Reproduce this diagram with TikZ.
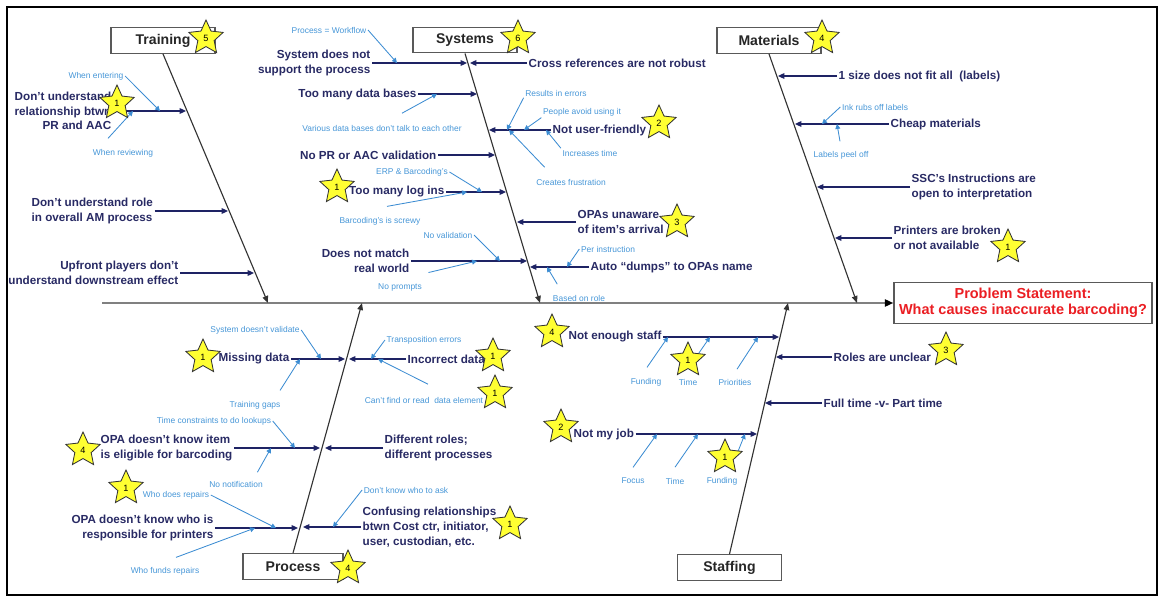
\documentclass[tikz,border=0pt]{standalone}
\usepackage{fontspec}
\setmainfont{Liberation Sans}
\usetikzlibrary{shapes.geometric,arrows.meta}
\definecolor{causetxt}{RGB}{40,42,100}
\definecolor{causeline}{RGB}{30,35,100}
\definecolor{subtxt}{RGB}{70,150,215}
\definecolor{subline}{RGB}{60,140,210}
\definecolor{staryellow}{RGB}{255,255,50}
\definecolor{probred}{RGB}{235,30,35}

\begin{document}
\begin{tikzpicture}
  [x=0.025cm,y=-0.025cm,
   catbox/.style={draw=black!65,line width=0.9pt,fill=white,minimum width=2.6cm,minimum height=0.64cm,font=\fontsize{10}{12}\selectfont\bfseries,text=black!85},
   cause/.style={font=\fontsize{8.3}{10.5}\selectfont\bfseries,text=causetxt,inner sep=1pt},
   sub/.style={font=\fontsize{6}{7}\selectfont,text=subtxt,inner sep=1pt},
   bone/.style={draw=black!80,line width=0.8pt,-{Triangle[length=5pt,width=4pt]}},
   spine/.style={draw=black!50,line width=1.6pt,-{Triangle[length=6pt,width=5pt,color=black]}},
   arr/.style={draw=causeline,line width=0.9pt,-{Triangle[length=4.5pt,width=4pt]}},
   subarr/.style={draw=subline,line width=0.6pt,-{Triangle[length=3.5pt,width=3.5pt]}},
   rating/.style={star,star points=5,star point ratio=2.1,minimum size=0.9cm,inner sep=0pt,fill=staryellow,draw=black!80,line width=0.6pt,font=\fontsize{6.5}{7}\selectfont}]
  \useasboundingbox (0,0) rectangle (1160,597);
  \draw[line width=1.4pt] (7,7) rectangle (1157,595);

  \node[catbox] (tra) at (163,40.5) {Training};
  \node[catbox] (sys) at (465,40) {Systems};
  \node[catbox] (mat) at (769,40.5) {Materials};
  \node[catbox,minimum width=2.5cm] (pro) at (293,566.5) {Process};
  \node[catbox] (sta) at (729.5,567.5) {Staffing};
  \node[draw=black!65,line width=0.9pt,fill=white,minimum width=6.45cm,minimum height=1.025cm,align=center,font=\fontsize{10.3}{11.5}\selectfont\bfseries,text=probred] (prob) at (1023,303) {Problem Statement:\\What causes inaccurate barcoding?};

  \coordinate (spl) at (102,303);
  \coordinate (trab) at (268,303);
  \coordinate (sysb) at (540,303);
  \coordinate (matb) at (857,303);
  \coordinate (prot) at (362,303);
  \coordinate (stat) at (788,303);

  \node[cause,align=right,anchor=east] (tr1) at (113,111) {Don't understand\\relationship btwn\\PR and AAC};
  \node[cause,align=left,anchor=west] (tr2) at (30,211) {Don't understand role\\in overall AM process};
  \node[cause,align=right,anchor=east] (tr3) at (180,273) {Upfront players don't\\understand downstream effect};
  \node[sub] (went) at (96,76) {When entering};
  \node[sub] (wrev) at (123,153) {When reviewing};
  \coordinate (tr1b) at (186,111);
  \coordinate (tr2b) at (228,211);
  \coordinate (tr3b) at (254,273);
  \coordinate (wents) at (160,111);
  \coordinate (wrevs) at (133,111);

  \node[cause,align=right,anchor=east] (sy1) at (372,63) {System does not\\support the process};
  \node[cause,anchor=west] (sy2) at (527,63) {Cross references are not robust};
  \node[cause,anchor=east] (sy3) at (418,94) {Too many data bases};
  \node[cause,anchor=west] (sy4) at (551,130) {Not user-friendly};
  \node[cause,anchor=east] (sy5) at (438,155) {No PR or AAC validation};
  \node[cause,anchor=east] (sy6) at (446,192) {Too many log ins};
  \node[cause,align=left,anchor=west] (sy7) at (576,222) {OPAs unaware\\of item's arrival};
  \node[cause,align=right,anchor=east] (sy8) at (411,261) {Does not match\\real world};
  \node[cause,anchor=west] (sy9) at (589,267) {Auto ``dumps'' to OPAs name};
  \node[sub] (pwf) at (329,30) {Process = Workflow};
  \node[sub] (vdb) at (382,128) {Various data bases don't talk to each other};
  \node[sub] (rie) at (556,93) {Results in errors};
  \node[sub] (pau) at (582,112) {People avoid using it};
  \node[sub] (inc) at (590,153) {Increases time};
  \node[sub] (cfr) at (571,182) {Creates frustration};
  \node[sub] (erp) at (412,172) {ERP \& Barcoding's};
  \node[sub] (bcs) at (380,221) {Barcoding's is screwy};
  \node[sub] (nov) at (448,235) {No validation};
  \node[sub] (nop) at (400,287) {No prompts};
  \node[sub] (pin) at (608,249) {Per instruction};
  \node[sub] (bor) at (579,298) {Based on role};
  \coordinate (sy1b) at (467,63);
  \coordinate (sy2b) at (470,63);
  \coordinate (sy3b) at (477,94);
  \coordinate (sy4b) at (489,130);
  \coordinate (sy5b) at (495,155);
  \coordinate (sy6b) at (506,192);
  \coordinate (sy7b) at (517,222);
  \coordinate (sy8b) at (527,261);
  \coordinate (sy9b) at (530,267);
  \coordinate (pwfs) at (397,63);
  \coordinate (vdbs) at (437,94);
  \coordinate (ries) at (507,130);
  \coordinate (paus) at (524,130);
  \coordinate (incs) at (546,130);
  \coordinate (cfrs) at (509,130);
  \coordinate (erps) at (482,192);
  \coordinate (bcss) at (467,192);
  \coordinate (novs) at (500,261);
  \coordinate (nops) at (477,261);
  \coordinate (pins) at (567,267);
  \coordinate (bors) at (547,267);

  \node[cause,anchor=west] (ma1) at (837,76) {1 size does not fit all\ \ (labels)};
  \node[cause,anchor=west] (ma2) at (889,124) {Cheap materials};
  \node[cause,align=left,anchor=west] (ma3) at (910,187) {SSC's Instructions are\\open to interpretation};
  \node[cause,align=left,anchor=west] (ma4) at (892,238) {Printers are broken\\or not available};
  \node[sub] (ink) at (875,107) {Ink rubs off labels};
  \node[sub] (lpo) at (841,155) {Labels peel off};
  \coordinate (ma1b) at (778,76);
  \coordinate (ma2b) at (795,124);
  \coordinate (ma3b) at (817,187);
  \coordinate (ma4b) at (835,238);
  \coordinate (inks) at (822,124);
  \coordinate (lpos) at (837,124);

  \node[cause,anchor=east] (pr1) at (291,359) {Missing data};
  \node[cause,anchor=west] (pr2) at (406,359) {Incorrect data};
  \node[cause,align=left,anchor=west] (pr3) at (99,448) {OPA doesn't know item\\is eligible for barcoding};
  \node[cause,align=left,anchor=west] (pr4) at (383,448) {Different roles;\\different processes};
  \node[cause,align=right,anchor=east] (pr5) at (215,528) {OPA doesn't know who is\\responsible for printers};
  \node[cause,align=left,anchor=west] (pr6) at (361,527) {Confusing relationships\\btwn Cost ctr, initiator,\\user, custodian, etc.};
  \node[sub] (sdv) at (255,330) {System doesn't validate};
  \node[sub] (tpe) at (424,340) {Transposition errors};
  \node[sub] (cfd) at (424,400) {Can't find or read\ \ data element};
  \node[sub] (tgp) at (255,405) {Training gaps};
  \node[sub] (tcl) at (214,421) {Time constraints to do lookups};
  \node[sub] (non) at (236,484) {No notification};
  \node[sub] (wdr) at (176,495) {Who does repairs};
  \node[sub] (wfr) at (165,571) {Who funds repairs};
  \node[sub] (dka) at (406,490) {Don't know who to ask};
  \coordinate (pr1b) at (345,359);
  \coordinate (pr2b) at (349,359);
  \coordinate (pr3b) at (320,448);
  \coordinate (pr4b) at (325,448);
  \coordinate (pr5b) at (298,528);
  \coordinate (pr6b) at (303,527);
  \coordinate (sdvs) at (321,359);
  \coordinate (tpes) at (371,359);
  \coordinate (cfds) at (378,359);
  \coordinate (tgps) at (300,359);
  \coordinate (tcls) at (295,448);
  \coordinate (nons) at (271,448);
  \coordinate (wdrs) at (276,528);
  \coordinate (wfrs) at (255,528);
  \coordinate (dkas) at (333,527);

  \node[cause,anchor=west] (st1) at (567,337) {Not enough staff};
  \node[cause,anchor=west] (st2) at (832,357) {Roles are unclear};
  \node[cause,anchor=west] (st3) at (822,403) {Full time -v- Part time};
  \node[cause,anchor=west] (st4) at (572,434) {Not my job};
  \node[sub] (fu1) at (646,382) {Funding};
  \node[sub] (ti1) at (688,382) {Time};
  \node[sub] (pri) at (735,382) {Priorities};
  \node[sub] (foc) at (633,481) {Focus};
  \node[sub] (ti2) at (675,481) {Time};
  \node[sub] (fu2) at (722,481) {Funding};
  \coordinate (st1b) at (779,337);
  \coordinate (st2b) at (776,357);
  \coordinate (st3b) at (765,403);
  \coordinate (st4b) at (757,434);
  \coordinate (fu1s) at (668,337);
  \coordinate (ti1s) at (710,337);
  \coordinate (pris) at (758,337);
  \coordinate (focs) at (657,434);
  \coordinate (ti2s) at (698,434);
  \coordinate (fu2s) at (745,434);

  \draw[spine] (spl) -- (prob);
  \draw[bone] (tra.south) -- (trab);
  \draw[bone] (sys.south) -- (sysb);
  \draw[bone] (mat.south) -- (matb);
  \draw[bone] (pro.north) -- (prot);
  \draw[bone] (sta.north) -- (stat);

  \draw[arr] (tr1) -- (tr1b);
  \draw[arr] (tr2) -- (tr2b);
  \draw[arr] (tr3) -- (tr3b);
  \draw[subarr] (went.east) -- (wents);
  \draw[subarr] ([shift={(-15,-9)}]wrev.north) -- (wrevs);

  \draw[arr] (sy1) -- (sy1b);
  \draw[arr] (sy2) -- (sy2b);
  \draw[arr] (sy3) -- (sy3b);
  \draw[arr] (sy4) -- (sy4b);
  \draw[arr] (sy5) -- (sy5b);
  \draw[arr] (sy6) -- (sy6b);
  \draw[arr] (sy7) -- (sy7b);
  \draw[arr] (sy8) -- (sy8b);
  \draw[arr] (sy9) -- (sy9b);
  \draw[subarr] (pwf.east) -- (pwfs);
  \draw[subarr] ([shift={(20,-10)}]vdb.north) -- (vdbs);
  \draw[subarr] (rie.south west) -- (ries);
  \draw[subarr] (pau.south west) -- (paus);
  \draw[subarr] (inc.north west) -- (incs);
  \draw[subarr] ([shift={(10,-10)}]cfr.north west) -- (cfrs);
  \draw[subarr] (erp.east) -- (erps);
  \draw[subarr] ([shift={(7,-9)}]bcs.north) -- (bcss);
  \draw[subarr] (nov.east) -- (novs);
  \draw[subarr] ([shift={(5,-9)}]nop.north east) -- (nops);
  \draw[subarr] (pin.west) -- (pins);
  \draw[subarr] ([shift={(6,-9)}]bor.north west) -- (bors);

  \draw[arr] (ma1) -- (ma1b);
  \draw[arr] (ma2) -- (ma2b);
  \draw[arr] (ma3) -- (ma3b);
  \draw[arr] (ma4) -- (ma4b);
  \draw[subarr] (ink.west) -- (inks);
  \draw[subarr] ([shift={(-1,-8)}]lpo.north) -- (lpos);

  \draw[arr] (pr1) -- (pr1b);
  \draw[arr] (pr2) -- (pr2b);
  \draw[arr] (pr3) -- (pr3b);
  \draw[arr] (pr4) -- (pr4b);
  \draw[arr] (pr5) -- (pr5b);
  \draw[arr] (pr6) -- (pr6b);
  \draw[subarr] (sdv.east) -- (sdvs);
  \draw[subarr] (tpe.west) -- (tpes);
  \draw[subarr] ([shift={(4,-11)}]cfd.north) -- (cfds);
  \draw[subarr] ([shift={(-2,-9)}]tgp.north east) -- (tgps);
  \draw[subarr] (tcl.east) -- (tcls);
  \draw[subarr] ([shift={(-7,-7)}]non.north east) -- (nons);
  \draw[subarr] (wdr.east) -- (wdrs);
  \draw[subarr] ([shift={(11,-8)}]wfr.north) -- (wfrs);
  \draw[subarr] (dka.west) -- (dkas);

  \draw[arr] (st1) -- (st1b);
  \draw[arr] (st2) -- (st2b);
  \draw[arr] (st3) -- (st3b);
  \draw[arr] (st4) -- (st4b);
  \draw[subarr] ([shift={(1,-9)}]fu1.north) -- (fu1s);
  \draw[subarr] ([shift={(8,-20)}]ti1.north) -- (ti1s);
  \draw[subarr] ([shift={(2,-8)}]pri.north) -- (pris);
  \draw[subarr] ([shift={(0,-9)}]foc.north) -- (focs);
  \draw[subarr] ([shift={(0,-9)}]ti2.north) -- (ti2s);
  \draw[subarr] ([shift={(16,-24)}]fu2.north) -- (fu2s);

  \node[rating] (r1) at (206,38) {5};
  \node[rating] (r2) at (518,38) {6};
  \node[rating] (r3) at (822,38) {4};
  \node[rating] (r4) at (117,103) {1};
  \node[rating] (r5) at (659,123) {2};
  \node[rating] (r6) at (337,187) {1};
  \node[rating] (r7) at (677,222) {3};
  \node[rating] (r8) at (1008,247) {1};
  \node[rating] (r9) at (203,357) {1};
  \node[rating] (r10) at (493,356) {1};
  \node[rating] (r11) at (495,393) {1};
  \node[rating] (r12) at (83,450) {4};
  \node[rating] (r13) at (126,488) {1};
  \node[rating] (r14) at (510,524) {1};
  \node[rating] (r15) at (348,568) {4};
  \node[rating] (r16) at (552,332) {4};
  \node[rating] (r17) at (688,360) {1};
  \node[rating] (r18) at (946,350) {3};
  \node[rating] (r19) at (561,427) {2};
  \node[rating] (r20) at (725,457) {1};
\end{tikzpicture}
\end{document}
